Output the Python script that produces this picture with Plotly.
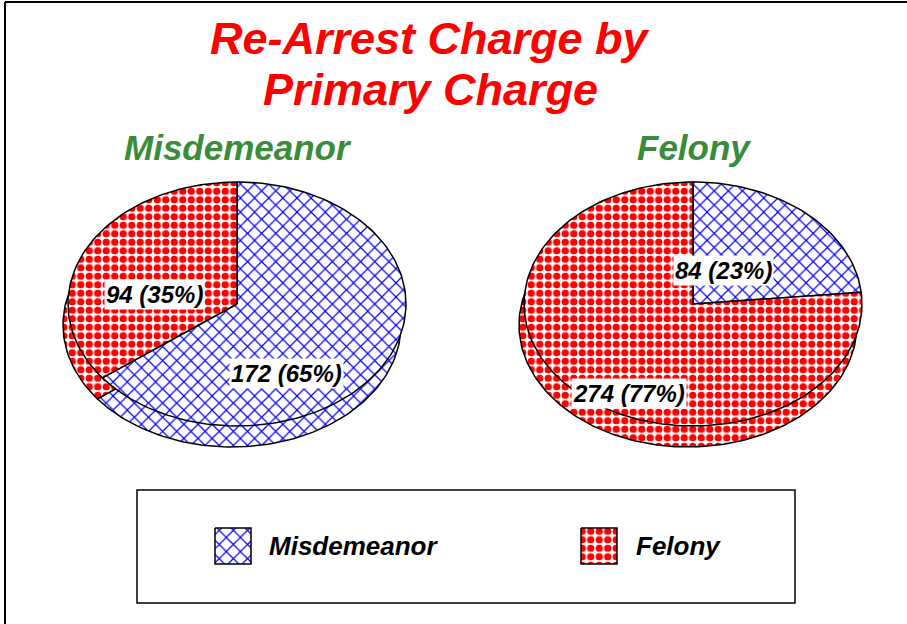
import numpy as np
import plotly.graph_objects as go

# Re-arrest charge counts, grouped by the primary charge
primary_charges = ["Misdemeanor", "Felony"]
rearrest_charges = ["Misdemeanor", "Felony"]
rearrest_after_misdemeanor = [172, 94]
rearrest_after_felony = [84, 274]

title_lines = ["Re-Arrest Charge by", "Primary Charge"]

# ---- styling -------------------------------------------------------------
W, H = 907, 624
FONT = "Liberation Sans"
TITLE_RED = "#ff0000"
SUB_GREEN = "#3a8c3a"

PATTERNS = {
    "Misdemeanor": dict(shape="x", fgcolor="#0000ff", bgcolor="white", size=10,
                        solidity=0.22, fgopacity=1),
    "Felony": dict(shape=".", fgcolor="#ff0000", bgcolor="white", size=8.5,
                   solidity=0.58, fgopacity=1),
}

# pie geometry (pixel space): top face ellipse + offset of the base rim
PIE_CENTERS = [(237, 304), (693, 304)]
RX, RY = 169, 122
DEPTH_DX, DEPTH_DY = -5, 21

# where each slice's value label sits, per pie, in slice order
LABEL_POS = [[(286, 373), (154, 294)], [(723, 270), (629, 393)]]


def wedge(cx, cy, f0, f1, n=240):
    """Elliptical wedge from fraction f0 to f1 of a turn, clockwise from 12 o'clock."""
    k = max(int(n * (f1 - f0)), 2)
    t = np.linspace(f0, f1, k) * 2 * np.pi
    xs = np.concatenate([[cx], cx + RX * np.sin(t), [cx]])
    ys = np.concatenate([[cy], cy - RY * np.cos(t), [cy]])
    return xs, ys


fig = go.Figure()
annotations = []

for (cx, cy), values, labels_xy, primary in zip(
        PIE_CENTERS, [rearrest_after_misdemeanor, rearrest_after_felony], LABEL_POS, primary_charges):
    total = sum(values)
    bounds = np.concatenate([[0], np.cumsum(values)]) / total
    # base rim first, then the top face over it
    for ox, oy in [(DEPTH_DX, DEPTH_DY), (0, 0)]:
        for i, charge in enumerate(rearrest_charges):
            xs, ys = wedge(cx + ox, cy + oy, bounds[i], bounds[i + 1])
            fig.add_trace(go.Scatter(
                x=xs, y=ys, mode="lines", fill="toself",
                fillcolor="white", fillpattern=PATTERNS[charge],
                line=dict(color="black", width=1.5),
                hoverinfo="skip", showlegend=False,
            ))
    for v, (lx, ly) in zip(values, labels_xy):
        annotations.append(dict(
            x=lx, y=ly, xref="x", yref="y", showarrow=False,
            text=f"{v} ({round(100 * v / total)}%)",
            font=dict(family=FONT, size=24, color="black", weight="bold", style="italic"),
            bgcolor="white", borderpad=1,
        ))
    annotations.append(dict(
        x=cx + 1, y=147, xref="x", yref="y", showarrow=False, text=primary,
        font=dict(family=FONT, size=35, color=SUB_GREEN, weight="bold", style="italic"),
    ))

# legend swatches and labels
LEGEND_BOX = (137, 490, 795, 603)
SWATCHES = [(215, 528, 251, 564), (581, 528, 617, 564)]
LEGEND_TEXT_X = [267, 634]
for charge, (x0, y0, x1, y1), tx in zip(rearrest_charges, SWATCHES, LEGEND_TEXT_X):
    fig.add_trace(go.Scatter(
        x=[x0, x1, x1, x0, x0], y=[y0, y0, y1, y1, y0], mode="lines", fill="toself",
        fillcolor="white", fillpattern=PATTERNS[charge],
        line=dict(color="black", width=1.5), hoverinfo="skip", showlegend=False,
    ))
    annotations.append(dict(
        x=tx, y=(y0 + y1) / 2, xref="x", yref="y", xanchor="left", showarrow=False,
        text=charge,
        font=dict(family=FONT, size=26, color="black", weight="bold", style="italic"),
    ))

for line_text, y in zip(title_lines, [38, 89]):
    annotations.append(dict(
        x=430, y=y, xref="x", yref="y", showarrow=False, text=line_text,
        font=dict(family=FONT, size=45, color=TITLE_RED, weight="bold", style="italic"),
    ))

shapes = [
    dict(type="rect", xref="x", yref="y", x0=LEGEND_BOX[0], y0=LEGEND_BOX[1],
         x1=LEGEND_BOX[2], y1=LEGEND_BOX[3], line=dict(color="black", width=1.5)),
    dict(type="line", xref="x", yref="y", x0=5, y0=2, x1=W, y1=2,
         line=dict(color="black", width=2)),
    dict(type="line", xref="x", yref="y", x0=5, y0=2, x1=5, y1=H,
         line=dict(color="black", width=2)),
]

fig.update_layout(
    width=W, height=H, autosize=False,
    margin=dict(l=0, r=0, t=0, b=0),
    paper_bgcolor="white", plot_bgcolor="white",
    xaxis=dict(range=[0, W], visible=False, fixedrange=True),
    yaxis=dict(range=[H, 0], visible=False, fixedrange=True),
    annotations=annotations, shapes=shapes, showlegend=False,
)

fig.write_html("out.html", config={"displayModeBar": False})
